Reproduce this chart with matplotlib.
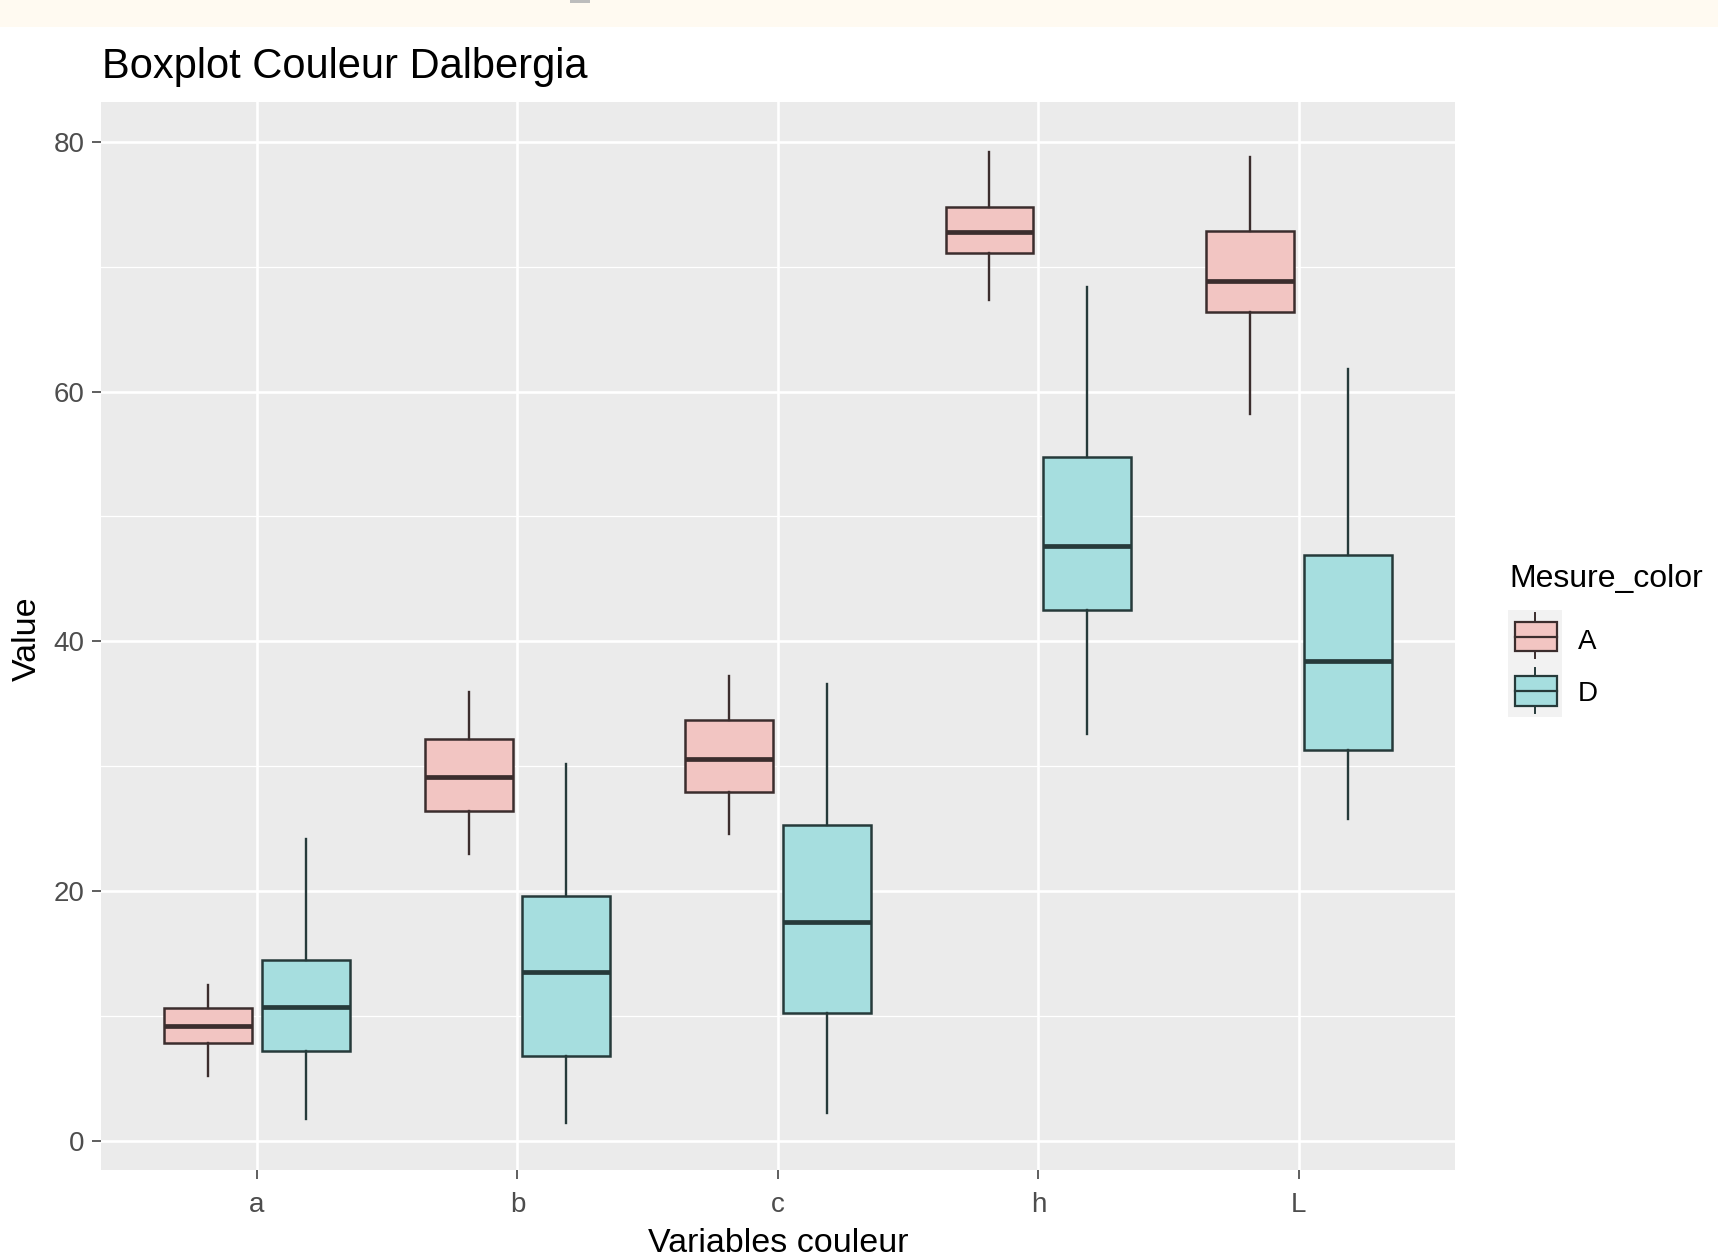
import matplotlib
matplotlib.use("Agg")
import matplotlib.pyplot as plt
from matplotlib.patches import Rectangle

plt.rcParams['font.family'] = ['Liberation Sans', 'DejaVu Sans']

# data
categories = ["a", "b", "c", "h", "L"]
groups = ["A", "D"]

whislo_A = [5.2, 23.0, 24.6, 67.3, 58.2]
q1_A = [7.8, 26.4, 27.9, 71.1, 66.4]
med_A = [9.2, 29.1, 30.6, 72.8, 68.9]
q3_A = [10.6, 32.2, 33.7, 74.8, 72.9]
whishi_A = [12.5, 35.9, 37.2, 79.2, 78.8]

whislo_D = [1.7, 1.4, 2.2, 32.6, 25.8]
q1_D = [7.2, 6.8, 10.2, 42.5, 31.3]
med_D = [10.7, 13.5, 17.5, 47.6, 38.4]
q3_D = [14.5, 19.6, 25.3, 54.8, 46.9]
whishi_D = [24.2, 30.2, 36.6, 68.4, 61.8]

fill_A = "#F2C5C2"
fill_D = "#A6DEDF"
edge_A = "#3b2d2d"
edge_D = "#263a3a"

W, H = 1718, 1257
fig = plt.figure(figsize=(W / 100, H / 100), dpi=100)

# cream strip at the top of the screenshot
fig.patches.append(Rectangle((0, 1 - 27 / H), 1, 27 / H, transform=fig.transFigure,
                             facecolor="#FFFAF1", edgecolor="none", zorder=0))
fig.patches.append(Rectangle((570 / W, 1 - 3 / H), 20 / W, 3 / H, transform=fig.transFigure,
                             facecolor="#BDBDBD", edgecolor="none", zorder=0))

left, right, top, bottom = 100.8, 1455, 102, 1170
ax = fig.add_axes([left / W, 1 - bottom / H, (right - left) / W, (bottom - top) / H])
ax.set_facecolor("#EBEBEB")
for s in ax.spines.values():
    s.set_visible(False)


def make_stats(lo, q1, med, q3, hi):
    return [dict(whislo=lo[i], q1=q1[i], med=med[i], q3=q3[i], whishi=hi[i], fliers=[])
            for i in range(len(lo))]


pos = list(range(1, len(categories) + 1))
offset = 0.1875
bw = 0.3375

for stats, sign, fc, ec in [
    (make_stats(whislo_A, q1_A, med_A, q3_A, whishi_A), -1, fill_A, edge_A),
    (make_stats(whislo_D, q1_D, med_D, q3_D, whishi_D), 1, fill_D, edge_D),
]:
    ax.bxp(stats, positions=[p + sign * offset for p in pos], widths=bw,
           patch_artist=True, showfliers=False, showcaps=False,
           boxprops=dict(facecolor=fc, edgecolor=ec, linewidth=1.8),
           whiskerprops=dict(color=ec, linewidth=1.7),
           medianprops=dict(color=ec, linewidth=3.4, solid_capstyle="butt"),
           zorder=3)

ax.set_xlim(0.4, 5.6)
ax.set_ylim(-2.35, 83.2)
ax.set_xticks(pos)
ax.set_xticklabels(categories)
ax.set_yticks([0, 20, 40, 60, 80])
ax.set_yticks([10, 30, 50, 70], minor=True)
ax.grid(which="major", color="white", linewidth=1.9, zorder=0)
ax.grid(which="minor", axis="y", color="white", linewidth=0.9, zorder=0)
ax.set_axisbelow(True)
ax.tick_params(axis="both", which="major", length=6.5, width=1.1, color="#333333",
               labelsize=20, labelcolor="#4D4D4D", pad=5)
ax.tick_params(axis="x", which="major", pad=9)
ax.tick_params(axis="y", which="minor", length=0)

fig.text(102 / W, 1 - 67 / H, "Boxplot Couleur Dalbergia", fontsize=30,
         ha="left", va="center", color="black")
fig.text(778 / W, 1 - 1243 / H, "Variables couleur", fontsize=24.5,
         ha="center", va="center", color="black")
fig.text(27 / W, 1 - 639 / H, "Value", fontsize=24.5, rotation=90,
         ha="center", va="center", color="black")

# legend
fig.text(1509 / W, 1 - 579 / H, "Mesure_color", fontsize=23, ha="left", va="center")
lax = fig.add_axes([1508 / W, 1 - 717 / H, 54 / W, 107 / H])
lax.set_xlim(0, 54)
lax.set_ylim(107, 0)
lax.axis("off")
lax.add_patch(Rectangle((0, 0), 54, 107, facecolor="#F2F2F2", edgecolor="none"))
for (y0, y1, wlo, whi, fc, ec) in [(12, 41, 3, 48, fill_A, edge_A), (66, 96, 58, 103, fill_D, edge_D)]:
    lax.plot([27, 27], [wlo, y0], color=ec, linewidth=1.4)
    lax.plot([27, 27], [y1, whi], color=ec, linewidth=1.4)
    lax.add_patch(Rectangle((7, y0), 42, y1 - y0, facecolor=fc, edgecolor=ec, linewidth=1.6))
    lax.plot([7, 49], [(y0 + y1) / 2] * 2, color=ec, linewidth=1.6)
for lab, yc in zip(groups, [642, 694]):
    fig.text(1578 / W, 1 - yc / H, lab, fontsize=20, ha="left", va="center")

fig.savefig("out.png", dpi=100, facecolor="white")
